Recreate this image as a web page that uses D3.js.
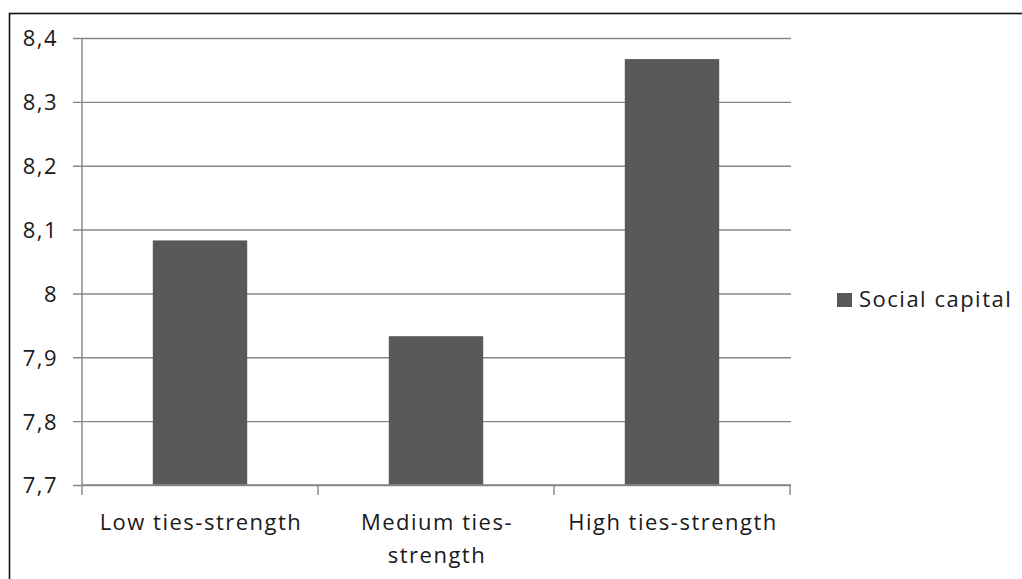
<!DOCTYPE html>
<html>
<head>
<meta charset="utf-8">
<script src="https://cdn.jsdelivr.net/npm/d3@7"></script>
<style>
  html, body { margin: 0; padding: 0; background: #fff; }
  svg { display: block; }
  text { font-family: "Open Sans", Lato, sans-serif; fill: #1a1a1a; letter-spacing: 1.5px; }
</style>
</head>
<body>
<svg id="chart" width="1022" height="579"></svg>
<script>
// Social capital by ties-strength group
const categories = ["Low ties-strength", "Medium ties-strength", "High ties-strength"];
const categoryLines = [["Low ties-strength"], ["Medium ties-", "strength"], ["High ties-strength"]];
const socialCapital = [8.083, 7.933, 8.367];
const yTicks = [7.7, 7.8, 7.9, 8.0, 8.1, 8.2, 8.3, 8.4];
const yTickLabels = ["7,7", "7,8", "7,9", "8", "8,1", "8,2", "8,3", "8,4"];
const seriesName = "Social capital";

const W = 1022, H = 579;
const plot = { left: 82, right: 790, top: 38, bottom: 485 };
const barColor = "#595959";
const gridColor = "#878787";
const fontSize = 22;

const svg = d3.select("#chart");

// outer frame (runs off the right and bottom edges)
svg.append("rect")
  .attr("x", 9.5).attr("y", 13.5)
  .attr("width", W + 10).attr("height", H + 10)
  .attr("fill", "#fff")
  .attr("stroke", "#111").attr("stroke-width", 1.6);

const y = d3.scaleLinear().domain([7.7, 8.4]).range([plot.bottom, plot.top]);
const x = d3.scaleBand().domain(categories)
  .range([plot.left, plot.right])
  .paddingInner(0.6).paddingOuter(0.3);

// horizontal gridlines with left tick stubs
const yAxis = d3.axisLeft(y)
  .tickValues(yTicks)
  .tickSize(-(plot.right - plot.left + 1))
  .tickPadding(0)
  .tickFormat((d, i) => yTickLabels[i]);

const gy = svg.append("g")
  .attr("transform", `translate(${plot.left},0)`)
  .call(yAxis);
gy.select(".domain").remove();
gy.selectAll(".tick line")
  .attr("x1", -9)
  .attr("stroke", gridColor).attr("stroke-width", 1.4);
gy.selectAll(".tick text")
  .attr("x", -24)
  .attr("dy", "0.36em")
  .attr("font-size", fontSize)
  .style("font-family", "'Open Sans', sans-serif")
  .style("letter-spacing", "1.5px")
  .attr("fill", "#1a1a1a");

// bars
svg.append("g").selectAll("rect")
  .data(categories)
  .join("rect")
  .attr("x", d => x(d))
  .attr("width", x.bandwidth())
  .attr("y", (d, i) => y(socialCapital[i]))
  .attr("height", (d, i) => y(7.7) - y(socialCapital[i]))
  .attr("fill", barColor);

// vertical axis line
svg.append("line")
  .attr("x1", plot.left).attr("x2", plot.left)
  .attr("y1", y(8.4)).attr("y2", y(7.7))
  .attr("stroke", gridColor).attr("stroke-width", 1.4);

// category axis with boundary ticks
const step = x.step();
const boundaries = d3.range(categories.length + 1).map(i => plot.left + i * step);
svg.append("line")
  .attr("x1", plot.left).attr("x2", plot.right + 1)
  .attr("y1", y(7.7)).attr("y2", y(7.7))
  .attr("stroke", gridColor).attr("stroke-width", 1.4);
svg.append("g").selectAll("line")
  .data(boundaries)
  .join("line")
  .attr("x1", d => d).attr("x2", d => d)
  .attr("y1", y(7.7)).attr("y2", y(7.7) + 10)
  .attr("stroke", gridColor).attr("stroke-width", 1.4);

// category labels
const labels = svg.append("g").selectAll("text")
  .data(categories)
  .join("text")
  .attr("text-anchor", "middle")
  .attr("font-size", fontSize)
  .attr("y", 530);
labels.each(function (d, i) {
  const t = d3.select(this);
  categoryLines[i].forEach((line, k) => {
    t.append("tspan")
      .attr("x", x(d) + x.bandwidth() / 2 + 1)
      .attr("dy", k === 0 ? 0 : 33)
      .text(line);
  });
});

// legend
const legend = svg.append("g");
legend.append("rect")
  .attr("x", 837).attr("y", 293)
  .attr("width", 15).attr("height", 14)
  .attr("fill", barColor);
legend.append("text")
  .attr("x", 859).attr("y", 307)
  .attr("font-size", fontSize)
  .text(seriesName);
</script>
</body>
</html>
